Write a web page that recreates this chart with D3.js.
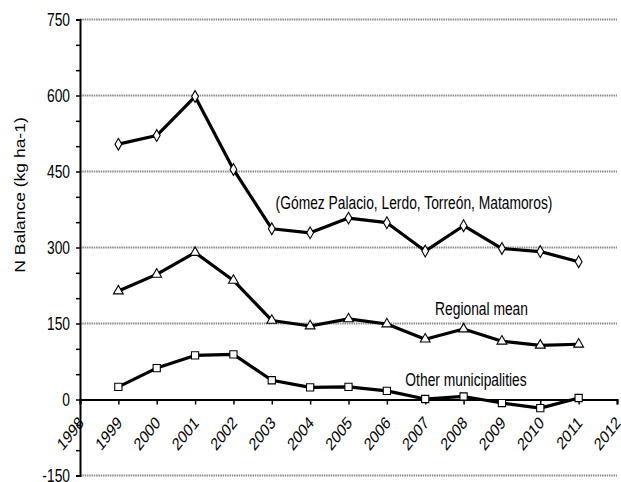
<!DOCTYPE html>
<html><head><meta charset="utf-8">
<script src="https://cdn.jsdelivr.net/npm/d3@7/dist/d3.min.js"></script>
<style>body{margin:0;background:#fff}svg{display:block}</style>
</head><body>
<svg id="c" width="621" height="482"></svg>
<script>
const years = [1999,2000,2001,2002,2003,2004,2005,2006,2007,2008,2009,2010,2011];
const comarca = [504,521,598,454,337,329,358,349,293,343,298,292,272];
const regional = [214,247,290,235,156,145,159,149,119,139,115,107,109];
const other = [25,62,87,89,38,24,25,17,1,6,-7,-17,3];
const xTicks = [1998,1999,2000,2001,2002,2003,2004,2005,2006,2007,2008,2009,2010,2011,2012];
const yTicks = [-150,0,150,300,450,600,750];
const yMinor = [-100,-50,50,100,200,250,350,400,500,550,650,700];
const labels = ["(Gómez Palacio, Lerdo, Torreón, Matamoros)","Regional mean","Other municipalities"];
const yTitle = "N Balance (kg ha-1)";

const svg = d3.select("#c");
const FONT = "Liberation Sans, Arial, sans-serif";
const SX = 0.79;
const x = d3.scaleLinear().domain([1998,2012]).range([80,617]);
const y = d3.scaleLinear().domain([-150,750]).range([475.5,19.5]);

// gridlines
svg.append("g").selectAll("line").data(yTicks.filter(v=>v!==0)).join("line")
  .attr("x1",x(1998)).attr("x2",x(2012)).attr("y1",d=>y(d)).attr("y2",d=>y(d))
  .attr("stroke","#8c8c8c").attr("stroke-width",2).attr("stroke-dasharray","1.5,0.8");

// y axis
const ya = svg.append("g").attr("transform",`translate(${x(1998)},0)`)
  .call(d3.axisLeft(y).tickValues(yTicks).tickSize(4).tickFormat(""));
ya.select(".domain").attr("stroke","#000").attr("stroke-width",2);
ya.selectAll(".tick line").attr("stroke","#000").attr("stroke-width",1.5);
const ym = svg.append("g").attr("transform",`translate(${x(1998)},0)`)
  .call(d3.axisLeft(y).tickValues(yMinor).tickSize(4).tickFormat(""));
ym.select(".domain").remove();
ym.selectAll(".tick line").attr("stroke","#000").attr("stroke-width",1.5);
svg.append("g").selectAll("text").data(yTicks).join("text")
  .attr("transform",d=>`translate(70,${y(d)}) scale(${SX},1)`)
  .attr("dy","0.36em").attr("text-anchor","end")
  .attr("font-family",FONT).attr("font-size",17.5).attr("fill","#000")
  .text(d=>d);

// x axis
const xa = svg.append("g").attr("transform",`translate(0,${y(0)})`)
  .call(d3.axisBottom(x).tickValues(xTicks).tickSize(5).tickFormat(""));
xa.select(".domain").attr("stroke","#000").attr("stroke-width",2);
xa.selectAll(".tick line").attr("stroke","#000").attr("stroke-width",1.5);
svg.append("g").selectAll("text").data(xTicks).join("text")
  .attr("transform",d=>`translate(${x(d)+1},${y(0)+20}) scale(${SX},1) rotate(-45)`)
  .attr("dy","0.36em").attr("text-anchor","end")
  .attr("font-family",FONT).attr("font-size",17.5).attr("fill","#000")
  .text(d=>d);

// y title
svg.append("text")
  .attr("transform",`translate(25,195) scale(${SX},1) rotate(-90)`)
  .attr("text-anchor","middle").attr("font-family",FONT).attr("font-size",17.5)
  .attr("fill","#000").text(yTitle);

// series
const line = d3.line().x((d,i)=>x(years[i])).y(d=>y(d));
const series = [
  {vals:comarca, sym:d3.symbolDiamond, size:40},
  {vals:regional, sym:d3.symbolTriangle, size:42},
  {vals:other, sym:d3.symbolSquare, size:52}
];
series.forEach(s=>{
  svg.append("path").datum(s.vals).attr("d",line).attr("fill","none")
    .attr("stroke","#000").attr("stroke-width",3.2).attr("stroke-linejoin","round");
});
series.forEach(s=>{
  svg.append("g").selectAll("path").data(s.vals).join("path")
    .attr("d",d3.symbol().type(s.sym).size(s.size))
    .attr("transform",(d,i)=>`translate(${x(years[i])},${y(d)})`)
    .attr("fill","#fff").attr("stroke","#000").attr("stroke-width",1.1);
});

// annotations
const ann = [[labels[0],414,209],[labels[1],481.5,315],[labels[2],466,386]];
svg.append("g").selectAll("text").data(ann).join("text")
  .attr("transform",d=>`translate(${d[1]},${d[2]}) scale(${SX},1)`)
  .attr("text-anchor","middle").attr("font-family",FONT).attr("font-size",17.5)
  .attr("fill","#000").text(d=>d[0]);
</script>
</body></html>
